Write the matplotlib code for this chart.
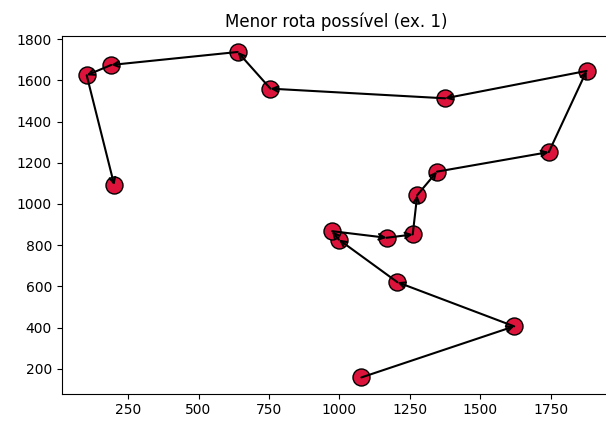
import matplotlib
matplotlib.use("Agg")
import matplotlib.pyplot as plt

# Cities in tour order
x = [1078, 1620, 1206, 998, 974, 1167, 1260, 1276, 1346, 1743, 1877, 1375, 755, 639, 190, 103, 201]
y = [158, 406, 620, 827, 868, 836, 852, 1043, 1157, 1252, 1646, 1513, 1560, 1738, 1675, 1625, 1091]
title = "Menor rota possível (ex. 1)"

fig = plt.figure(figsize=(6.06, 4.23), dpi=100)
ax = fig.add_axes([0.1018, 0.0693, 0.9074, 0.8463])

ax.scatter(x, y, s=150, c="#DC143C", edgecolors="black", linewidths=1.0, zorder=2)
for i in range(len(x) - 1):
    ax.annotate("", xy=(x[i + 1], y[i + 1]), xytext=(x[i], y[i]),
                arrowprops=dict(arrowstyle="->", color="black", lw=1.5,
                                shrinkA=0, shrinkB=0), zorder=3)

ax.set_xticks([250, 500, 750, 1000, 1250, 1500, 1750])
ax.set_yticks([200, 400, 600, 800, 1000, 1200, 1400, 1600, 1800])
ax.set_title(title, fontsize=12)

fig.savefig("out.png", dpi=100)
